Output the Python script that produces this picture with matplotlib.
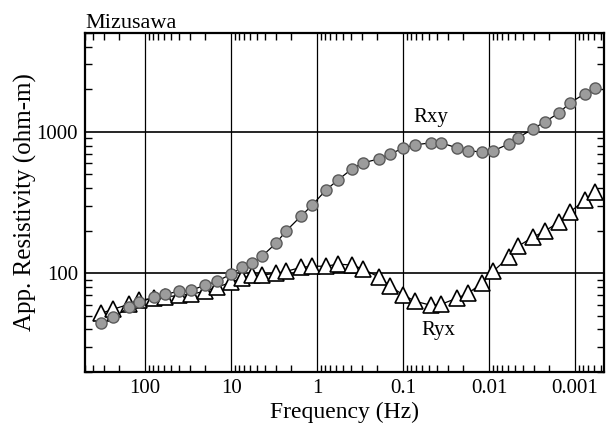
import matplotlib.pyplot as plt
from matplotlib.ticker import LogLocator, FixedLocator, FixedFormatter, NullFormatter

plt.rcParams['font.family'] = ['Liberation Serif', 'DejaVu Serif']

# frequencies (Hz), shared by both curves
freq = [325, 236, 153, 117, 78.6, 58.5, 40.2, 29.2, 20.1, 14.5,
        10.0, 7.45, 5.70, 4.36, 3.00, 2.29, 1.53, 1.14, 0.786, 0.570,
        0.392, 0.292, 0.190, 0.142, 0.100, 0.0725, 0.0472, 0.0361, 0.0236, 0.0175,
        0.0121, 0.00898, 0.00585, 0.00460, 0.00308, 0.00223, 0.00153, 0.00114, 0.000766, 0.000585]

rxy = [44.2, 48.7, 57.4, 62.3, 67.6, 71.0, 74.5, 75.7, 82.2, 87.8,
       98.4, 110, 118, 132, 163, 199, 254, 303, 388, 457,
       547, 603, 644, 698, 764, 809, 836, 836, 770, 733,
       721, 733, 822, 907, 1050, 1178, 1364, 1605, 1862, 2051]

ryx = [52.0, 55.6, 60.3, 64.4, 66.5, 67.6, 69.8, 71.0, 74.5, 79.6,
       86.3, 92.2, 96.8, 96.8, 100, 103, 110, 112, 112, 116,
       114, 107, 93.7, 80.9, 70.4, 63.3, 59.3, 60.3, 66.5, 72.1,
       84.9, 103, 130, 155, 180, 199, 230, 271, 330, 375]

xticks = [100, 10, 1, 0.1, 0.01, 0.001]
xlabels = ['100', '10', '1', '0.1', '0.01', '0.001']
yticks = [100, 1000]
ylabels = ['100', '1000']

fig = plt.figure(figsize=(6.06, 4.30), dpi=100)
ax = fig.add_axes([85 / 606, 58 / 430, 519 / 606, 339 / 430])

ax.set_xscale('log')
ax.set_yscale('log')
ax.set_xlim(500, 0.00046)
ax.set_ylim(20, 5000)

for x in xticks:
    ax.axvline(x, color='black', lw=0.9, zorder=1)
for y in yticks:
    ax.axhline(y, color='black', lw=1.2, zorder=1)

ax.plot(freq, ryx, '-', color='black', lw=0.9, marker='^', markersize=11,
        markerfacecolor='white', markeredgecolor='black', markeredgewidth=1.2, zorder=3)
ax.plot(freq, rxy, '-', color='black', lw=0.9, marker='o', markersize=8,
        markerfacecolor='#9c9c9c', markeredgecolor='#5a5a5a', markeredgewidth=1.0, zorder=4)

ax.text(0.0472, 1257, 'Rxy', fontsize=15, ha='center', va='center')
ax.text(0.039, 39.5, 'Ryx', fontsize=15, ha='center', va='center')

ax.xaxis.set_major_locator(FixedLocator(xticks))
ax.xaxis.set_major_formatter(FixedFormatter(xlabels))
ax.xaxis.set_minor_locator(LogLocator(base=10, subs=range(2, 10), numticks=20))
ax.xaxis.set_minor_formatter(NullFormatter())
ax.yaxis.set_major_locator(FixedLocator(yticks))
ax.yaxis.set_major_formatter(FixedFormatter(ylabels))
ax.yaxis.set_minor_locator(LogLocator(base=10, subs=range(2, 10), numticks=20))
ax.yaxis.set_minor_formatter(NullFormatter())

ax.tick_params(which='both', direction='in', top=True, right=True, labelsize=15)
ax.tick_params(which='major', length=0, pad=5)
ax.tick_params(which='minor', length=5, width=1)

for s in ax.spines.values():
    s.set_linewidth(1.6)

ax.set_xlabel('Frequency (Hz)', fontsize=17, labelpad=3)
ax.set_ylabel('App. Resistivity (ohm-m)', fontsize=18, labelpad=0)
ax.set_title('Mizusawa', fontsize=16, loc='left', pad=2)

fig.savefig('out.png', dpi=100)
